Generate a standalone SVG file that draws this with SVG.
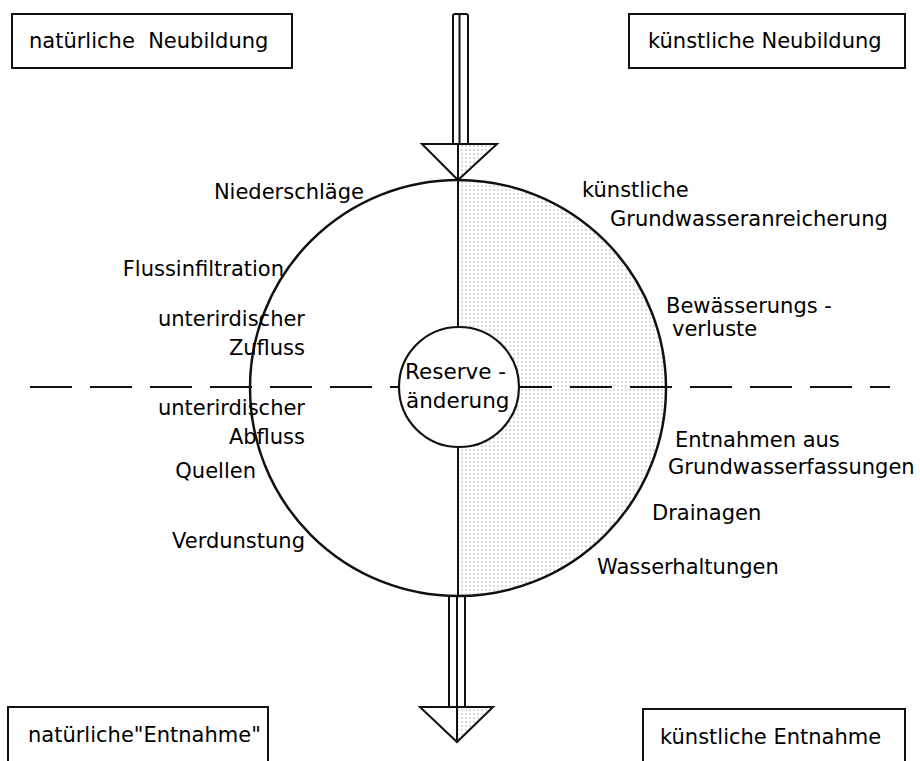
<svg xmlns="http://www.w3.org/2000/svg" width="920" height="761" viewBox="0 0 920 761">
<style>
.t{font-family:"DejaVu Sans","Liberation Sans",sans-serif;font-size:21px;fill:#000}
.box{fill:#fff;stroke:#111;stroke-width:2}
.ln{fill:none;stroke:#111;stroke-width:2.5}
.thin{fill:none;stroke:#111;stroke-width:2}
.dash{fill:none;stroke:#111;stroke-width:2;stroke-dasharray:42 18}
</style>
<defs>
<pattern id="dots" width="4" height="4" patternUnits="userSpaceOnUse">
<rect width="4" height="4" fill="#fff"/>
<circle cx="2" cy="2" r="0.7" fill="#a0a0a0"/>
</pattern>
</defs>
<g id="fill">
<path d="M458,180 A208,208 0 0,1 458,596 Z" fill="url(#dots)"/>
</g>
<g id="connectors">
<line class="dash" x1="30" y1="387" x2="890" y2="387"/>
<g id="arrow-top">
<path d="M453,144 L453,16 Q453,14 455,14 L466,14 Q468,14 468,16 L468,144" class="thin"/>
<line x1="459.5" y1="14" x2="459.5" y2="144" class="thin"/>
<path d="M458,144 L497,144 L458,180 Z" fill="url(#dots)"/>
<path d="M422,144 L497,144 L458,180 Z" class="thin"/>
<line x1="458" y1="144" x2="458" y2="180" class="thin"/>
</g>
<g id="arrow-bottom">
<path d="M449,595 L449,707 M465,595 L465,707" class="thin"/>
<line x1="457" y1="595" x2="457" y2="707" class="thin"/>
<path d="M457,707 L493,707 L457,742 Z" fill="url(#dots)"/>
<path d="M420,707 L493,707 L457,742 Z" class="thin"/>
<line x1="457" y1="707" x2="457" y2="742" class="thin"/>
</g>
</g>
<g id="balance">
<circle cx="458" cy="388" r="208" class="ln"/>
<line x1="458" y1="180" x2="458" y2="596" class="thin"/>
</g>
<g id="reserve">
<circle cx="459" cy="387" r="60" fill="#fff" stroke="#111" stroke-width="2.2"/>
<text class="t" x="405" y="379" style="font-size:21.5px">Reserve -</text>
<text class="t" x="406" y="408" style="font-size:21.5px">änderung</text>
</g>
<g id="box-natuerliche-neubildung">
<rect class="box" x="12" y="14" width="280" height="54"/>
<text class="t" x="29" y="48" xml:space="preserve">natürliche  Neubildung</text>
</g>
<g id="box-kuenstliche-neubildung">
<rect class="box" x="629" y="14" width="276" height="54"/>
<text class="t" x="648" y="48">künstliche Neubildung</text>
</g>
<g id="box-natuerliche-entnahme">
<rect class="box" x="8" y="707" width="260" height="70"/>
<text class="t" x="28" y="742">natürliche"Entnahme"</text>
</g>
<g id="box-kuenstliche-entnahme">
<rect class="box" x="643" y="709" width="262" height="70"/>
<text class="t" x="660" y="744">künstliche Entnahme</text>
</g>
<g id="labels-left">
<text class="t" x="364" y="199" text-anchor="end">Niederschläge</text>
<text class="t" x="284" y="276" text-anchor="end">Flussinfiltration</text>
<text class="t" x="305" y="326" text-anchor="end">unterirdischer</text>
<text class="t" x="305" y="355" text-anchor="end">Zufluss</text>
<text class="t" x="305" y="415" text-anchor="end">unterirdischer</text>
<text class="t" x="305" y="444" text-anchor="end">Abfluss</text>
<text class="t" x="256" y="478" text-anchor="end">Quellen</text>
<text class="t" x="305" y="548" text-anchor="end">Verdunstung</text>
</g>
<g id="labels-right">
<text class="t" x="582" y="197">künstliche</text>
<text class="t" x="610" y="226">Grundwasseranreicherung</text>
<text class="t" x="666" y="313">Bewässerungs -</text>
<text class="t" x="672" y="336">verluste</text>
<text class="t" x="675" y="447">Entnahmen  aus</text>
<text class="t" x="668" y="474">Grundwasserfassungen</text>
<text class="t" x="652" y="520">Drainagen</text>
<text class="t" x="597" y="574">Wasserhaltungen</text>
</g>
</svg>
